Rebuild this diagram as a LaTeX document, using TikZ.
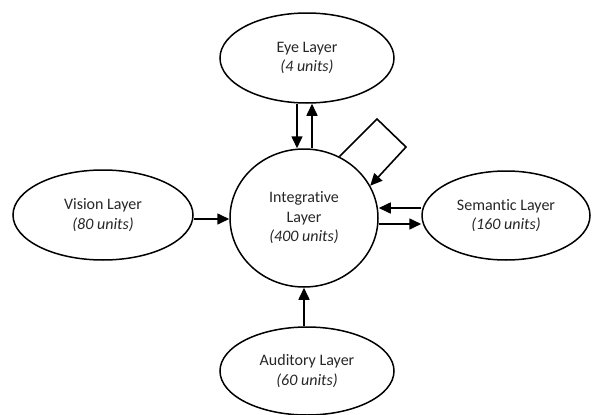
\documentclass[tikz,border=0pt]{standalone}
\usepackage{fontspec}
\setmainfont{Carlito}[Ligatures=NoCommon]
\usetikzlibrary{shapes.geometric,arrows.meta}
\begin{document}
\begin{tikzpicture}[x=1pt,y=-1pt,
  layer/.style={draw,ellipse,line width=1.5pt,inner sep=0pt,align=center,
    font=\fontsize{16}{19.5}\selectfont,text=black!85},
  arr/.style={line width=1.6pt,-{Triangle[length=12pt,width=11pt]}}]
\useasboundingbox (0,0) rectangle (592,415);
\node[layer,minimum width=174pt,minimum height=90pt] (eye) at (307,58) {Eye Layer\\\textit{(4 units)}};
\node[layer,minimum width=148pt,minimum height=138pt] (integ) at (304,218) {Integrative\\Layer\\\textit{(400 units)}};
\node[layer,minimum width=180pt,minimum height=90pt] (vis) at (103,215) {Vision Layer\\\textit{(80 units)}};
\node[layer,minimum width=168pt,minimum height=89pt] (sem) at (506,215.5) {Semantic Layer\\\textit{(160 units)}};
\node[layer,minimum width=174pt,minimum height=88pt] (aud) at (307,371) {Auditory Layer\\\textit{(60 units)}};
\coordinate (loopa) at (377,119);
\coordinate (loopb) at (406,147);
% eye <-> integrative
\draw[arr] ([xshift=-10pt]eye.south) -- ([xshift=-10pt]eye.south |- integ.north);
\draw[arr] ([xshift=5pt]eye.south |- integ.north) -- ([xshift=5pt]eye.south);
% self loop
\draw[arr,line join=miter] (integ.60) -- (loopa) -- (loopb) -- (integ.26);
% semantic <-> integrative
\draw[arr] ([yshift=7.5pt]sem.west) -- ([yshift=7.5pt]sem.west -| integ.east);
\draw[arr] ([yshift=-8.5pt]sem.west -| integ.east) -- ([yshift=-8.5pt]sem.west);
% vision -> integrative
\draw[arr] ([yshift=-4pt]vis.east) -- ([yshift=-4pt]vis.east -| integ.west);
% auditory -> integrative
\draw[arr] (aud.north -| integ.south) -- (integ.south);
\end{tikzpicture}
\end{document}
